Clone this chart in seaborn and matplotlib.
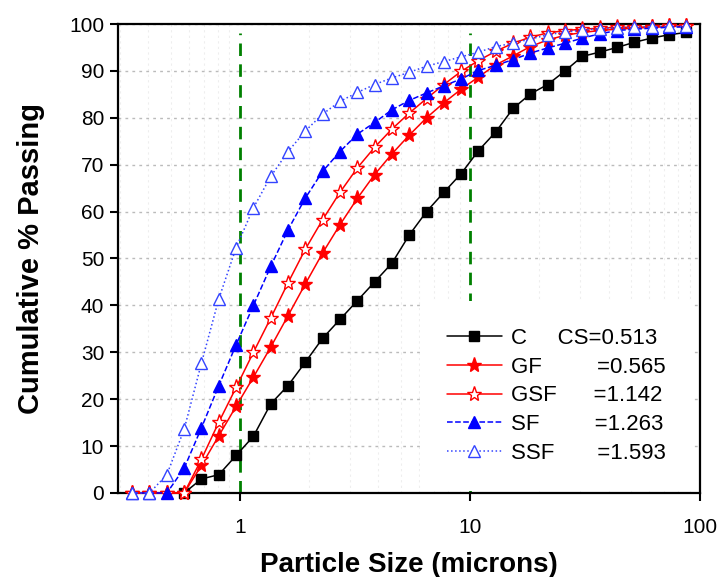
import numpy as np
import pandas as pd
import matplotlib
matplotlib.use("Agg")
import matplotlib.pyplot as plt
import seaborn as sns

sizes = [0.340, 0.404, 0.481, 0.572, 0.680, 0.809, 0.962, 1.144, 1.360, 1.617,
         1.924, 2.288, 2.720, 3.235, 3.847, 4.575, 5.440, 6.470, 7.694, 9.150,
         10.88, 12.94, 15.39, 18.30, 21.76, 25.88, 30.78, 36.60, 43.52, 51.76,
         61.55, 73.20, 87.05]

nan = np.nan
c_pass = [nan, nan, nan, 0, 3.0, 3.9, 8.0, 12.1, 19.0, 22.9, 27.9, 33.0, 37.0,
          41.0, 45.0, 49.0, 55.0, 60.0, 64.1, 68.1, 73.0, 77.0, 82.0, 85.1, 87.1,
          90.0, 93.1, 94.0, 95.0, 96.1, 97.0, 97.7, 98.2]
gf_pass = [0, 0, 0, 0, 5.9, 12.2, 18.5, 24.7, 31.1, 37.8, 44.6, 51.2, 57.2, 62.8,
           67.9, 72.3, 76.3, 80.0, 83.2, 86.1, 88.7, 91.3, 93.2, 95.2, 96.6, 97.6,
           98.2, 98.6, 98.9, 99.1, 99.3, 99.5, 99.6]
gsf_pass = [0, 0, 0, 0, 7.2, 15.1, 22.5, 30.0, 37.3, 44.8, 52.0, 58.3, 64.1, 69.3,
            73.7, 77.6, 81.0, 84.1, 87.1, 89.9, 92.2, 94.2, 95.9, 97.2, 98.1, 98.6,
            98.9, 99.1, 99.3, 99.3, 99.4, 99.5, 99.5]
sf_pass = [0, 0, 0, 5.3, 13.9, 22.9, 31.6, 40.0, 48.3, 56.1, 62.9, 68.6, 72.8, 76.5,
           79.0, 81.7, 83.7, 85.3, 86.8, 88.3, 90.1, 91.2, 92.4, 93.8, 94.9, 95.9,
           97.0, 97.9, 98.6, 98.9, 99.1, 99.3, 99.4]
ssf_pass = [0, 0, 3.9, 13.6, 27.7, 41.4, 52.3, 60.8, 67.5, 72.8, 77.2, 80.8, 83.5,
            85.4, 87.1, 88.5, 89.7, 91.0, 92.0, 93.0, 94.0, 95.2, 95.9, 96.8, 97.7,
            98.3, 98.7, 99.0, 99.2, 99.3, 99.4, 99.5, 99.5]

names = ["C", "GF", "GSF", "SF", "SSF"]
cs_text = ["CS=0.513", "=0.565", "=1.142", "=1.263", "=1.593"]
guide_x = [1, 10]

df = pd.DataFrame({"size": sizes, "C": c_pass, "GF": gf_pass, "GSF": gsf_pass,
                   "SF": sf_pass, "SSF": ssf_pass})

sns.set_style("white")
plt.rcParams["font.family"] = ["Liberation Sans", "DejaVu Sans"]
plt.rcParams.update({"text.color": "black", "axes.labelcolor": "black",
                     "xtick.color": "black", "ytick.color": "black"})

fig = plt.figure(figsize=(7.21, 5.77), dpi=100)
ax = fig.add_axes([0.1637, 0.1456, 0.8073, 0.8128])

# name: (color, marker, linestyle, face, size)
styles = {
    "C": ("black", "s", "-", "black", 7),
    "GF": ("red", "*", "-", "red", 11),
    "GSF": ("red", "*", "-", "white", 11),
    "SF": ("blue", "^", "--", "blue", 8.5),
    "SSF": ("#3344ff", "^", ":", "white", 8.5),
}

for name in names:
    col, mk, ls, face, ms = styles[name]
    sns.lineplot(data=df, x="size", y=name, ax=ax, color=col, marker=mk,
                 linestyle=ls, linewidth=1.1, markersize=ms,
                 markerfacecolor=face, markeredgecolor=col, markeredgewidth=1.0,
                 clip_on=False, zorder=3, label=name)

ax.vlines(guide_x, 0, 98, colors="green", linestyles=(0, (4.5, 3)), linewidth=2,
          zorder=2)

ax.set_xscale("log")
ax.set_xlim(0.295, 100)
ax.set_ylim(0, 100)
ax.set_yticks(range(0, 101, 10))
ax.set_xticks([1, 10, 100])
ax.set_xticklabels(["1", "10", "100"])
ax.tick_params(axis="both", which="major", direction="out", length=6, width=1.5,
               labelsize=15, color="black", labelcolor="black", left=True,
               bottom=True, pad=4)
ax.tick_params(axis="x", which="minor", bottom=False)
ax.tick_params(axis="x", which="major", pad=12)

ax.grid(axis="y", which="major", color="#bbbbbb", linestyle=(0, (2, 3)),
        linewidth=1.0)
ax.grid(axis="x", which="minor", color="#eeeeee", linestyle=(0, (2, 3)),
        linewidth=0.8)
ax.set_axisbelow(True)

for sp in ax.spines.values():
    sp.set_color("black")
    sp.set_linewidth(1.6)

ax.set_xlabel("Particle Size (microns)", fontsize=20, fontweight="bold",
              labelpad=11)
ax.set_ylabel("Cumulative % Passing", fontsize=21, fontweight="bold",
              labelpad=17)

gaps = [5, 9, 6, 9, 7]
labels = [n + " " * g + t for n, g, t in zip(names, gaps, cs_text)]
handles, _ = ax.get_legend_handles_labels()
leg = ax.legend(handles, labels, loc="center", bbox_to_anchor=(0.753, 0.207),
                fontsize=16, frameon=True, facecolor="white", edgecolor="none",
                framealpha=1, handlelength=2.5, handletextpad=0.4,
                labelspacing=0.35, borderpad=1.2)
leg.set_zorder(5)

fig.savefig("out.png", dpi=100, facecolor="white")
